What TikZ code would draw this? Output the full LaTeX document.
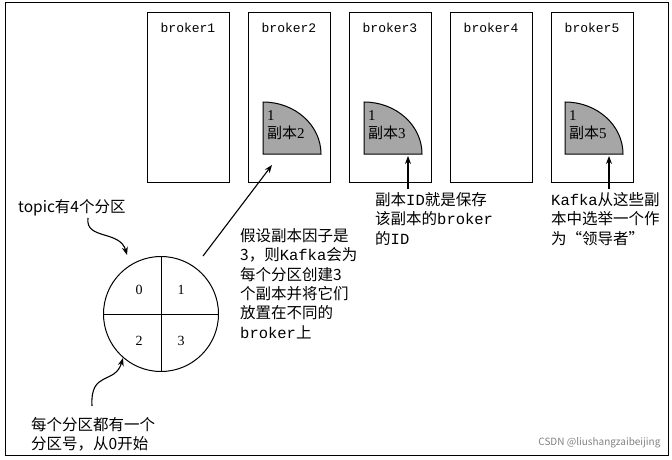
\documentclass[tikz,border=0pt]{standalone}
\usepackage{fontspec}
\setmainfont{Liberation Mono}
\newfontfamily\cjk{Noto Sans CJK SC}
\newfontfamily\serifd{Liberation Serif}
\usetikzlibrary{arrows.meta}
\begin{document}
\begin{tikzpicture}[x=1pt,y=-1pt,
  bx/.style={draw,line width=1pt,minimum width=82pt,minimum height=170pt,anchor=north west,inner sep=0pt},
  bl/.style={anchor=north,font=\fontsize{13}{14}\selectfont},
  txt/.style={anchor=north west,align=left,inner sep=0pt,font=\cjk\fontsize{15.5}{19.4}\selectfont},
  arr/.style={line width=1.1pt,-{Stealth[length=8pt,width=6pt]}},
  qf/.style={draw,line width=1pt,fill=gray!70}]
\useasboundingbox (0,0) rectangle (672,460);
\draw[line width=1pt] (5,3) rectangle (668,455);
\foreach \i/\x in {1/147,2/248,3/349,4/450,5/551}{
  \node[bx] (b\i) at (\x,12) {};
  \node[bl] at (\x+41,20) {broker\i};
}
\foreach \i/\x in {2/263,3/364,5/565}{
  \draw[qf] (\x,102) -- (\x,154) -- (\x+58,154) arc[start angle=0,end angle=-90,x radius=58,y radius=52] -- cycle;
  \node[anchor=north west,inner sep=0pt,align=left,font=\cjk\fontsize{15}{18}\selectfont] (q\i) at (\x+4,110) {\serifd 1\\副本\serifd\i};
  \coordinate (t\i) at (\x+44,156);
}
% circle
\node[draw,circle,line width=1pt,minimum size=115pt,inner sep=0pt] (c) at (161,314) {};
\draw[line width=0.7pt] (c.north) -- (c.south) (c.west) -- (c.east);
\node[font=\serifd\fontsize{14}{14}\selectfont] at (139,290) {0};
\node[font=\serifd\fontsize{14}{14}\selectfont] at (181,290) {1};
\node[font=\serifd\fontsize{14}{14}\selectfont] at (139,341) {2};
\node[font=\serifd\fontsize{14}{14}\selectfont] at (181,341) {3};
% texts
\node[txt] (tp) at (18,199) {topic\cjk 有4个分区};
\node[txt] (fac) at (240,228) {假设副本因子是\\3，则{\rmfamily Kafka}会为\\每个分区创建3\\个副本并将它们\\放置在不同的\\{\rmfamily broker}上};
\node[txt] (id) at (375,192) {副本{\rmfamily ID}就是保存\\该副本的{\rmfamily broker}\\的{\rmfamily ID}};
\node[txt] (ld) at (551,192) {{\rmfamily Kafka}从这些副\\本中选举一个作\\为“领导者”};
\node[txt] (pn) at (31,417) {每个分区都有一个\\分区号，从0开始};
\node[anchor=south east,font=\cjk\fontsize{10}{12}\selectfont,text=gray] (wm) at (664,452) {CSDN @liushangzaibeijing};
% arrows
\coordinate (a1) at (203,256);
\coordinate (a2) at (272,165);
\draw[arr] (a1) -- (a2);
\draw[arr] (id.north west -| t3) ++(0,-3) -- (t3);
\draw[arr] (ld.north west -| t5) ++(0,-3) -- (t5);
\coordinate (s1) at (88,218);
\coordinate (e1) at (127,255);
\draw[arr] (s1) .. controls (85,240) and (120,230) .. (e1);
\coordinate (s2) at (92,406);
\coordinate (e2) at (123,358);
\draw[arr] (s2) .. controls (90,370) and (115,385) .. (e2);
\end{tikzpicture}
\end{document}
